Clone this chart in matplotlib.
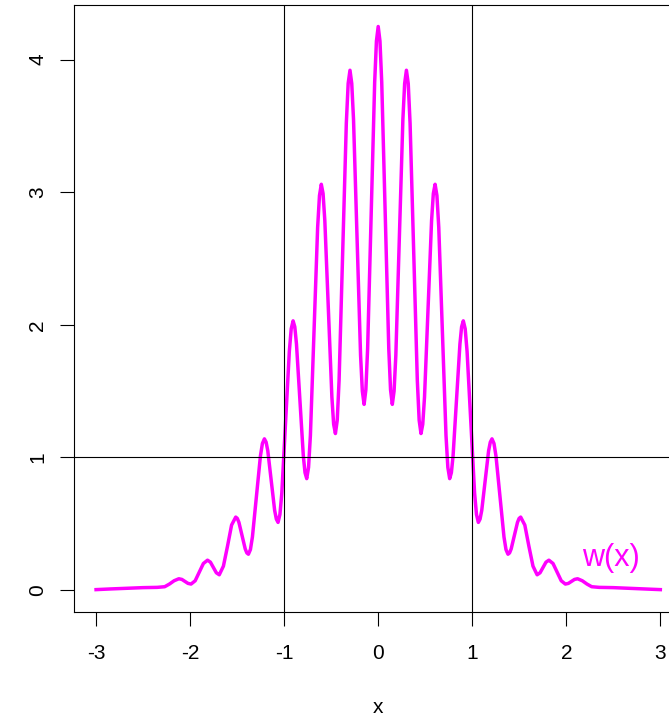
import numpy as np
import matplotlib.pyplot as plt

plt.rcParams['font.family'] = ['Liberation Sans', 'DejaVu Sans']

# w(x) for x >= 0 (curve is symmetric about x = 0)
x_half = [0.000, 0.01875, 0.0375, 0.075, 0.1125, 0.13125, 0.150,
          0.16875, 0.1875, 0.225, 0.2625, 0.28125, 0.300,
          0.3194, 0.339, 0.3775, 0.416, 0.4356, 0.455,
          0.47375, 0.4925, 0.530, 0.5675, 0.58625, 0.605,
          0.6244, 0.644, 0.6825, 0.721, 0.7406, 0.760,
          0.7781, 0.796, 0.8325, 0.869, 0.8869, 0.905,
          0.925, 0.945, 0.985, 1.025, 1.045, 1.065,
          1.0831, 1.101, 1.1375, 1.174, 1.1919, 1.210,
          1.2313, 1.2525, 1.295, 1.3375, 1.3588, 1.380,
          1.3969, 1.414, 1.4475, 1.481, 1.4981, 1.515,
          1.559, 1.6025, 1.646, 1.690,
          1.721, 1.7525, 1.784, 1.815,
          1.859, 1.9025, 1.946, 1.990,
          2.0225, 2.055, 2.0875, 2.120,
          2.170, 2.220, 2.270, 2.350, 2.500, 2.700, 2.850, 3.000]
w_half = [4.25, 4.14, 3.83, 2.83, 1.82, 1.51, 1.40,
          1.50, 1.77, 2.66, 3.55, 3.82, 3.92,
          3.82, 3.52, 2.55, 1.58, 1.28, 1.18,
          1.25, 1.455, 2.12, 2.785, 2.99, 3.06,
          2.975, 2.735, 1.95, 1.165, 0.925, 0.84,
          0.885, 1.01, 1.435, 1.855, 1.985, 2.03,
          1.97, 1.80, 1.27, 0.73, 0.57, 0.51,
          0.535, 0.60, 0.825, 1.05, 1.115, 1.14,
          1.105, 1.01, 0.705, 0.40, 0.305, 0.27,
          0.28, 0.31, 0.41, 0.51, 0.54, 0.55,
          0.49, 0.33, 0.18, 0.115,
          0.13, 0.17, 0.21, 0.225,
          0.20, 0.135, 0.07, 0.045,
          0.05, 0.065, 0.08, 0.085,
          0.07, 0.045, 0.025, 0.02, 0.018, 0.012, 0.008, 0.003]

x_ticks = [-3, -2, -1, 0, 1, 2, 3]
y_ticks = [0, 1, 2, 3, 4]
x_lines = [-1, 1]
y_lines = [1]

xh = np.array(x_half)
wh = np.array(w_half)
x = np.concatenate([-xh[::-1][:-1], xh])
w = np.concatenate([wh[::-1][:-1], wh])

fig = plt.figure(figsize=(6.69, 7.21), dpi=100)
ax = fig.add_axes([73.5 / 669, (721 - 612.3) / 721, 609.4 / 669, 607.3 / 721])

ax.plot(x, w, color='#ff00ff', lw=2.5, solid_joinstyle='round')
for v in x_lines:
    ax.axvline(v, color='black', lw=0.8)
for h in y_lines:
    ax.axhline(h, color='black', lw=0.8)

ax.text(2.47, 0.24, 'w(x)', color='#ff00ff', fontsize=22, ha='center', va='center')

ax.set_xlim(-3.24, 3.24)
ax.set_ylim(-0.168, 4.412)
ax.set_xticks(x_ticks)
ax.set_yticks(y_ticks)
ax.set_xticklabels([str(v) for v in x_ticks])
ax.set_yticklabels([str(v) for v in y_ticks])
ax.tick_params(axis='both', direction='out', length=10, width=0.8, labelsize=15, colors='black')
ax.tick_params(axis='x', pad=13)
ax.tick_params(axis='y', pad=9)
for lab in ax.get_yticklabels():
    lab.set_rotation(90)
    lab.set_va('center')

for s in ax.spines.values():
    s.set_linewidth(0.8)
    s.set_color('black')

ax.set_xlabel('x', fontsize=15)
ax.xaxis.set_label_coords(0.5, -0.156)
ax.xaxis.label.set_va('center')

fig.savefig('out.png', dpi=100)
